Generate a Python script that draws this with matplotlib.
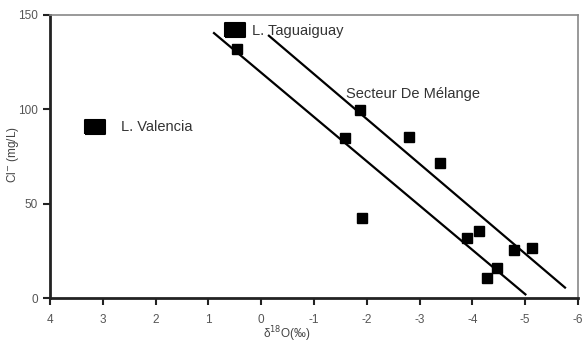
import matplotlib
matplotlib.use("Agg")
import matplotlib.pyplot as plt

plt.rcParams["font.family"] = ["Liberation Sans", "DejaVu Sans"]

# Data
lake_names = ["L. Valencia", "L. Taguaiguay"]
lake_d18o = [3.15, 0.50]
lake_cl = [90.8, 142.1]

sample_d18o = [0.46, -1.88, -1.59, -2.80, -3.39, -1.90, -3.89, -4.13, -4.79, -5.13, -4.47, -4.28]
sample_cl = [131.8, 99.8, 85.0, 85.2, 71.8, 42.4, 31.8, 35.8, 25.6, 26.8, 16.1, 10.6]

line_lower_x = [0.91, -5.02]
line_lower_y = [140.8, 1.7]
line_upper_x = [-0.13, -5.77]
line_upper_y = [139.4, 5.3]

x_ticks = [4, 3, 2, 1, 0, -1, -2, -3, -4, -5, -6]
y_ticks = [0, 50, 100, 150]

fig = plt.figure(figsize=(5.82, 3.43), dpi=100)
ax = fig.add_axes([50/582, 1-298.3/343, (578-50)/582, (298.3-15)/343])

ax.set_xlim(4, -6)
ax.set_ylim(0, 150)

ax.plot(line_lower_x, line_lower_y, color="black", lw=1.6, solid_capstyle="butt")
ax.plot(line_upper_x, line_upper_y, color="black", lw=1.6, solid_capstyle="butt")

ax.plot(sample_d18o, sample_cl, ls="none", marker="s", ms=7, color="black")

rr = [(-1.5, -1), (1.5, -1), (1.5, 1), (-1.5, 1), (-1.5, -1)]
ax.plot(lake_d18o, lake_cl, ls="none", marker=rr, ms=15, color="black",
        markeredgewidth=1.5, markeredgecolor="black")

ax.text(lake_d18o[0] - 0.5, lake_cl[0], lake_names[0], fontsize=10.5, color="#333333",
        va="center", ha="left")
ax.text(lake_d18o[1] - 0.33, lake_cl[1] - 0.5, lake_names[1], fontsize=10.5, color="#333333",
        va="center", ha="left")
ax.text(-1.6, 108, "Secteur De Mélange", fontsize=10.5, color="#333333", va="center", ha="left")

ax.set_xticks(x_ticks)
ax.set_xticklabels([str(t) for t in x_ticks])
ax.set_yticks(y_ticks)
ax.tick_params(axis="both", labelsize=8.5, labelcolor="#555555", length=5, width=1.5,
               direction="out", color="#222222")
ax.tick_params(axis="x", pad=6)

for s in ["left", "bottom"]:
    ax.spines[s].set_linewidth(2)
    ax.spines[s].set_color("#222222")
for s in ["top", "right"]:
    ax.spines[s].set_linewidth(1.2)
    ax.spines[s].set_color("#888888")

ax.set_ylabel("Cl$^{-}$ (mg/L)", fontsize=8.5, color="#444444")
ax.yaxis.set_label_coords(-0.055, 0.506)
ax.set_xlabel("δ$^{18}$O(‰)", fontsize=8.5, color="#444444")
ax.xaxis.set_label_coords((287-50)/528, -0.092)

fig.savefig("out.png", dpi=100)
